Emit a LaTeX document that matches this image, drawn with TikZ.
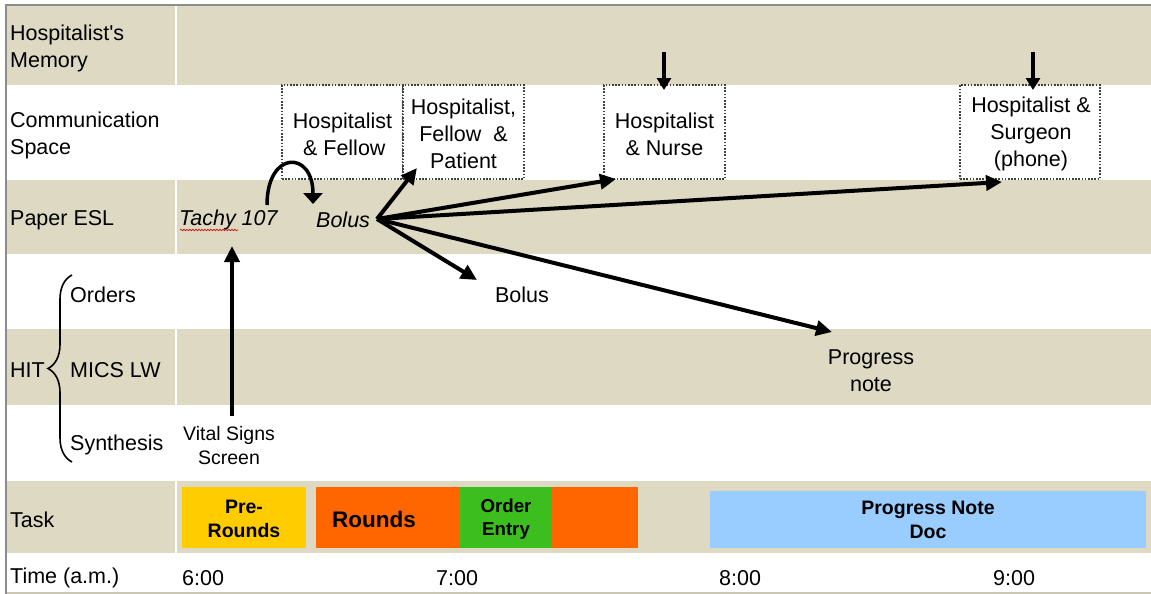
\documentclass[tikz,border=0pt]{standalone}
\usepackage{fontspec}
\setmainfont{Liberation Sans}[Ligatures=TeXOff]
\usetikzlibrary{arrows.meta,decorations.pathreplacing,decorations.pathmorphing}

\definecolor{tan}{HTML}{DDD9C3}
\definecolor{frame}{HTML}{8C8C8C}
\definecolor{preround}{HTML}{FFCC00}
\definecolor{roundorange}{HTML}{FF6600}
\definecolor{ordergreen}{HTML}{3CBE1E}
\definecolor{notesblue}{HTML}{99CCFF}

\tikzset{
  txt/.style={inner sep=0pt, font=\fontsize{21.5}{27}\selectfont},
  rowlabel/.style={txt, anchor=west, align=left},
  small/.style={inner sep=0pt, align=center, font=\fontsize{19.5}{24}\selectfont},
  taskbold/.style={inner sep=0pt, align=center, font=\bfseries\fontsize{19.5}{24}\selectfont},
  commbox/.style={draw=black!75, line width=1.6pt, dash pattern=on 1.6pt off 1.6pt,
                  minimum height=94pt, fill=white, inner sep=0pt},
  commtext/.style={txt, align=center},
  flow/.style={line width=4pt, -{Triangle[length=16pt,width=15pt]}},
  loopflow/.style={line width=3.5pt, -{Triangle[length=11pt,width=19pt]}},
  drop/.style={line width=4pt, -{Triangle[length=12pt,width=14pt]}},
  band/.style={fill=tan, draw=none},
}

\begin{document}
\begin{tikzpicture}[x=1pt,y=-1pt]
\useasboundingbox (0,0) rectangle (1151,594);
\fill[white] (0,0) rectangle (1151,594);

% shaded rows, split into label column and timeline column
\foreach \top/\bot in {5/85, 180/254, 329/405, 481/553}{
  \fill[band] (7,\top) rectangle (175,\bot);
  \fill[band] (177,\top) rectangle (1151,\bot);
}

% outer frame
\draw[frame, line width=2pt] (6,594) -- (6,5) -- (1151,5);
\draw[tan!80!gray, line width=1.5pt] (7,593) -- (1151,593);

% row labels
\node[rowlabel] (lmem) at (10,48) {Hospitalist's\\Memory};
\node[rowlabel] (lcomm) at (10,135) {Communication\\Space};
\node[rowlabel] (lpaper) at (10,220) {Paper ESL};
\node[rowlabel] (lorders) at (70,295) {Orders};
\node[rowlabel] (lmics) at (70,370) {MICS LW};
\node[rowlabel] (lsyn) at (70,445) {Synthesis};
\node[rowlabel] (lhit) at (10,370) {HIT};
\node[rowlabel] (ltask) at (10,520) {Task};
\node[rowlabel] (ltime) at (10,578) {Time (a.m.)};

% HIT brace
\draw[line width=1.6pt, decorate, decoration={brace, amplitude=24pt}]
  (72,462) -- (72,275);

% communication boxes
\node[commbox, minimum width=121pt] (hf) at (342.5,132) {};
\node[commbox, minimum width=121pt] (hfp) at (463.5,132) {};
\node[commbox, minimum width=121pt] (hn) at (664.5,132) {};
\node[commbox, minimum width=140pt] (hs) at (1030,132) {};
\node[commtext] (hfT) at (342.5,134) {Hospitalist\\\,\& Fellow};
\node[commtext] (hfpT) at (463.5,134) {Hospitalist,\\Fellow~ \&\\Patient};
\node[commtext] (hnT) at (664.5,134) {Hospitalist\\\& Nurse};
\node[commtext] (hsT) at (1031,134) {Hospitalist \&\\Surgeon\\(phone)};

% paper ESL entries
\node[txt, anchor=west, font=\itshape\fontsize{21.5}{27}\selectfont] (tachy) at (179,220) {Tachy 107};
\node[txt, anchor=west, font=\itshape\fontsize{21.5}{27}\selectfont] (bolus) at (316,220) {Bolus};
\draw[red!85!black, line width=0.6pt, decorate,
      decoration={snake, amplitude=0.8pt, segment length=3pt}] (180,230) -- (238,230);

% HIT entries
\node[txt] (obolus) at (522,295) {Bolus};
\node[txt, align=center] (pnote) at (871,371) {Progress\\note};
\node[small] (vital) at (229,446) {Vital Signs\\Screen};

% time axis
\node[txt, anchor=west] (t6) at (182,578) {6:00};
\node[txt, anchor=west] (t7) at (436,578) {7:00};
\node[txt, anchor=west] (t8) at (719,578) {8:00};
\node[txt, anchor=west] (t9) at (993,578) {9:00};

% task bars
\fill[preround] (182,487) rectangle (306,548);
\fill[roundorange] (316,487) rectangle (460,548);
\fill[ordergreen] (460,487) rectangle (552,548);
\fill[roundorange] (552,487) rectangle (638,548);
\fill[notesblue] (710,491) rectangle (1146,548);
\node[taskbold] (tpre) at (244,519) {Pre-\\Rounds};
\node[inner sep=0pt, font=\bfseries\fontsize{22.5}{26}\selectfont] (tround) at (374,519) {Rounds};
\node[taskbold, font=\bfseries\fontsize{18.7}{22.5}\selectfont] (torder) at (506,519) {Order\\Entry};
\node[taskbold] (tnote) at (928,520) {Progress Note\\Doc};

% connector end points
\coordinate (src) at (377,219);
\coordinate (toHFP) at (417,168);
\coordinate (toHN) at (616,179);
\coordinate (toHS) at (1002,182);
\coordinate (toOB) at (477,280);
\coordinate (toPN) at (832,332);
\coordinate (loopA) at (267,205);
\coordinate (loopB) at (313,204);
\coordinate (vsTip) at (232,246);
\coordinate (vsTail) at (232,416);
\coordinate (memA) at (664,52);
\coordinate (memB) at (1033,52);
\coordinate (hnTop) at (664,90);
\coordinate (hsTop) at (1033,90);

% flows out of the paper bolus entry
\draw[flow] (src) -- (toHFP);
\draw[flow] (src) -- (toHN);
\draw[flow] (src) -- (toHS);
\draw[flow] (src) -- (toOB);
\draw[flow] (src) -- (toPN);

% tachycardia leads to the bolus
\draw[loopflow] (loopA) .. controls (267,150) and (313,150) .. (loopB);

% vital signs feed the paper sheet
\draw[flow] (vsTail) -- (vsTip);

% memory cues into conversations
\draw[drop] (memA) -- (hnTop);
\draw[drop] (memB) -- (hsTop);
\end{tikzpicture}
\end{document}
